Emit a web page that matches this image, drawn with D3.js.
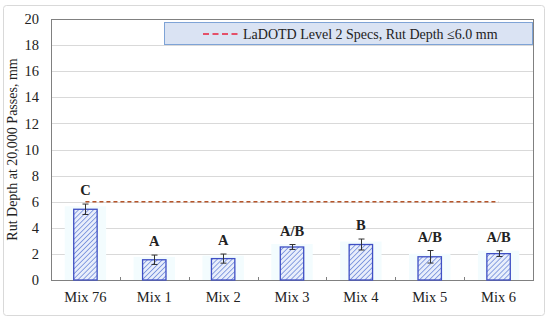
<!DOCTYPE html>
<html>
<head>
<meta charset="utf-8">
<script src="https://cdn.jsdelivr.net/npm/d3@7"></script>
<style>
  html, body { margin: 0; padding: 0; background: #fff; }
  svg { display: block; }
  svg text { font-family: "Liberation Serif", "Times New Roman", Tinos, "DejaVu Serif", serif; }
</style>
</head>
<body>
<div id="chart"></div>
<script>
const mixes = ["Mix 76", "Mix 1", "Mix 2", "Mix 3", "Mix 4", "Mix 5", "Mix 6"];
const rutDepth = [5.42, 1.55, 1.64, 2.53, 2.72, 1.78, 2.02];
const rutError = [0.40, 0.36, 0.35, 0.19, 0.42, 0.48, 0.22];
const groups = ["C", "A", "A", "A/B", "B", "A/B", "A/B"];
const specLimit = 6.0;
const yTicks = [0, 2, 4, 6, 8, 10, 12, 14, 16, 18, 20];
const legendText = "LaDOTD Level 2 Specs, Rut Depth \u22646.0 mm";

const width = 550, height = 321;
const margin = { top: 19, right: 17, bottom: 41, left: 51 };
const iw = width - margin.left - margin.right;
const ih = height - margin.top - margin.bottom;
const serif = "'Liberation Serif', 'Times New Roman', serif";

const svg = d3.select("#chart").append("svg")
  .attr("width", width).attr("height", height);

// outer frame
svg.append("rect")
  .attr("x", 3.5).attr("y", 5.5).attr("width", 541).attr("height", 310)
  .attr("rx", 3).attr("fill", "#fff").attr("stroke", "#d9d9d9");

const defs = svg.append("defs");
const pat = defs.append("pattern")
  .attr("id", "hatch").attr("patternUnits", "userSpaceOnUse")
  .attr("width", 3.5).attr("height", 3.5)
  .attr("patternTransform", "rotate(45)");
pat.append("rect").attr("width", 3.5).attr("height", 3.5).attr("fill", "#e8eefb");
pat.append("line").attr("x1", 0).attr("y1", 0).attr("x2", 0).attr("y2", 3.5)
  .attr("stroke", "#4a6cd0").attr("stroke-width", 1.2);

const g = svg.append("g").attr("transform", `translate(${margin.left},${margin.top})`);

const x = d3.scaleBand().domain(mixes).range([0, iw]);
const y = d3.scaleLinear().domain([0, 20]).range([ih, 0]);

// gridlines
g.append("g").selectAll("line")
  .data(yTicks.slice(1))
  .join("line")
  .attr("x1", 0).attr("x2", iw)
  .attr("y1", d => Math.round(y(d)) + 0.5).attr("y2", d => Math.round(y(d)) + 0.5)
  .attr("stroke", "#d9d9d9");

// plot border
g.append("rect").attr("x", 0.5).attr("y", 0.5).attr("width", iw).attr("height", ih)
  .attr("fill", "none").attr("stroke", "#808080");

// y axis
const yAxis = g.append("g")
  .call(d3.axisLeft(y).tickValues(yTicks).tickSize(0).tickPadding(12));
yAxis.attr("font-family", serif);
yAxis.select(".domain").remove();
yAxis.selectAll("text")
  .attr("font-family", serif)
  .attr("font-size", 14.5).attr("fill", "#222");

// x axis
const xAxis = g.append("g").attr("transform", `translate(0,${ih})`)
  .call(d3.axisBottom(x).tickSize(0).tickPadding(12));
xAxis.attr("font-family", serif);
xAxis.select(".domain").attr("stroke", "#808080");
xAxis.selectAll("text")
  .attr("font-family", serif)
  .attr("font-size", 14.5).attr("fill", "#222");
// category boundary ticks
g.append("g").selectAll("line")
  .data(mixes.slice(1))
  .join("line")
  .attr("x1", d => Math.round(x(d)) + 0.5).attr("x2", d => Math.round(x(d)) + 0.5)
  .attr("y1", ih).attr("y2", ih - 3)
  .attr("stroke", "#808080");

const bw = x.bandwidth() * 0.34;
const cx = d => x(d) + x.bandwidth() / 2;

// faint glow behind bars
g.append("g").selectAll("rect")
  .data(mixes)
  .join("rect")
  .attr("x", d => cx(d) - bw / 2 - 9)
  .attr("y", (d, i) => y(rutDepth[i]) - 3)
  .attr("width", bw + 18)
  .attr("height", (d, i) => ih - y(rutDepth[i]) + 3)
  .attr("fill", "#f3fcfe");

// bars
g.append("g").selectAll("rect")
  .data(mixes)
  .join("rect")
  .attr("x", d => cx(d) - bw / 2)
  .attr("y", (d, i) => y(rutDepth[i]))
  .attr("width", bw)
  .attr("height", (d, i) => ih - y(rutDepth[i]))
  .attr("fill", "url(#hatch)")
  .attr("stroke", "#3f4fc4").attr("stroke-width", 1.3);

// error bars
const eb = g.append("g").attr("stroke", "#333").attr("stroke-width", 1);
mixes.forEach((m, i) => {
  const c = Math.round(cx(m)) + 0.5;
  const top = y(rutDepth[i] + rutError[i]);
  const bot = y(rutDepth[i] - rutError[i]);
  eb.append("line").attr("x1", c).attr("x2", c).attr("y1", top).attr("y2", bot);
  eb.append("line").attr("x1", c - 3).attr("x2", c + 3).attr("y1", top).attr("y2", top);
  eb.append("line").attr("x1", c - 3).attr("x2", c + 3).attr("y1", bot).attr("y2", bot);
});

// spec line
g.append("line")
  .attr("x1", cx(mixes[0])).attr("x2", cx(mixes[mixes.length - 1]))
  .attr("y1", y(specLimit)).attr("y2", y(specLimit))
  .attr("stroke", "#b5552a").attr("stroke-width", 1.5)
  .attr("stroke-dasharray", "4 3");

// group letters
g.append("g").selectAll("text")
  .data(mixes)
  .join("text")
  .attr("x", d => cx(d))
  .attr("y", (d, i) => y(rutDepth[i] + rutError[i]) - 9)
  .attr("text-anchor", "middle")
  .attr("font-family", serif)
  .attr("font-size", 14.5).attr("font-weight", "bold").attr("fill", "#222")
  .text((d, i) => groups[i]);

// legend
const lg = svg.append("g");
lg.append("rect")
  .attr("x", 164.5).attr("y", 22.5).attr("width", 368).attr("height", 22)
  .attr("fill", "#dae3f3").attr("stroke", "#7ea3d6");
lg.append("line")
  .attr("x1", 203).attr("x2", 238).attr("y1", 34).attr("y2", 34)
  .attr("stroke", "#e8203c").attr("stroke-width", 1.5).attr("stroke-dasharray", "6 3.5");
lg.append("text")
  .attr("x", 243).attr("y", 38.5)
  .attr("font-family", serif)
  .attr("font-size", 14).attr("fill", "#222")
  .text(legendText);

// y title
svg.append("text")
  .attr("transform", `translate(17,${margin.top + ih / 2}) rotate(-90)`)
  .attr("text-anchor", "middle")
  .attr("font-family", serif)
  .attr("font-size", 14).attr("fill", "#222")
  .text("Rut Depth at 20,000 Passes, mm");
</script>
</body>
</html>
